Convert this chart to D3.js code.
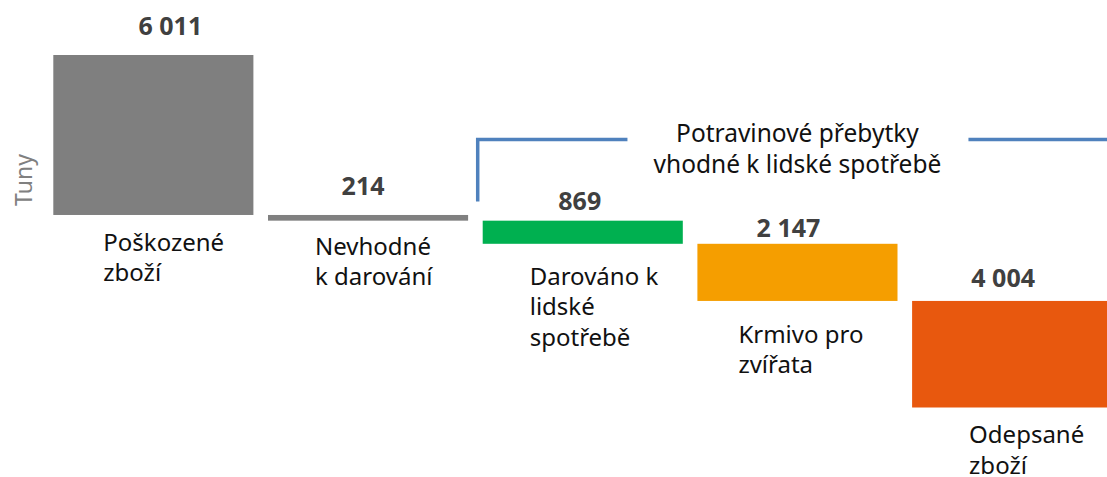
<!DOCTYPE html>
<html>
<head>
<meta charset="utf-8">
<script src="https://cdn.jsdelivr.net/npm/d3@7"></script>
<style>
  html, body { margin: 0; padding: 0; background: #fff; }
  svg { display: block; }
  text { font-family: "Noto Sans", "Open Sans", sans-serif; }
</style>
</head>
<body>
<svg id="chart" width="1107" height="477"></svg>
<script>
// ---- data ----
const categories = ["Poškozené zboží", "Nevhodné k darování", "Darováno k lidské spotřebě", "Krmivo pro zvířata", "Odepsané zboží"];
const categoryLines = [["Poškozené", "zboží"], ["Nevhodné", "k darování"], ["Darováno k", "lidské", "spotřebě"], ["Krmivo pro", "zvířata"], ["Odepsané", "zboží"]];
const values = [6011, 214, 869, 2147, 4004];
const valueLabels = ["6 011", "214", "869", "2 147", "4 004"];
const axisTitle = "Tuny";
const bracketLines = ["Potravinové přebytky", "vhodné k lidské spotřebě"];

// ---- layout / style ----
const W = 1107, H = 477;
const colors = ["#7f7f7f", "#808080", "#00b050", "#f59e00", "#e8580e"];
const labelDx = [17, -5, -3, -9, -9];
const labelDy = [-20, -20, -11, -7, -13.5];
const catDx = [50, 47, 47, 41, 57];
const catDy = [36, 34, 41, 42, 35.5];
const lineH = 30.5;

const svg = d3.select("#chart");

const x = d3.scaleBand()
  .domain(categories)
  .range([46, 1119.5])
  .paddingInner(0.068)
  .paddingOuter(0.034);

// cumulative (cascading downward) positions
const starts = [];
let acc = 0;
values.forEach(v => { starts.push(acc); acc += v; });
const total = acc;

const y = d3.scaleLinear().domain([0, total]).range([55, 407.5]);

const data = categories.map((c, i) => ({ c, i, v: values[i], s: starts[i], lbl: valueLabels[i], lines: categoryLines[i] }));

// bars
svg.append("g").selectAll("rect").data(data).join("rect")
  .attr("x", d => x(d.c))
  .attr("y", d => y(d.s))
  .attr("width", x.bandwidth())
  .attr("height", d => y(d.s + d.v) - y(d.s))
  .attr("fill", d => colors[d.i]);

// value labels
svg.append("g").selectAll("text").data(data).join("text")
  .attr("x", d => x(d.c) + x.bandwidth() / 2 + labelDx[d.i])
  .attr("y", d => y(d.s) + labelDy[d.i])
  .attr("text-anchor", "middle")
  .attr("font-size", 25)
  .attr("font-weight", "bold")
  .attr("fill", "#404040")
  .text(d => d.lbl);

// category labels
const cat = svg.append("g").selectAll("text").data(data).join("text")
  .attr("x", d => x(d.c) + catDx[d.i])
  .attr("y", d => y(d.s + d.v) + catDy[d.i])
  .attr("font-size", 24)
  .attr("fill", "#111");
cat.selectAll("tspan").data(d => d.lines.map((t, k) => ({ t, k, d }))).join("tspan")
  .attr("x", e => x(e.d.c) + catDx[e.d.i])
  .attr("dy", e => e.k === 0 ? 0 : lineH)
  .text(e => e.t);

// axis title
svg.append("text")
  .attr("transform", "translate(32,180) rotate(-90)")
  .attr("text-anchor", "middle")
  .attr("font-size", 23)
  .attr("fill", "#808080")
  .text(axisTitle);

// bracket
const bx = x(categories[2]) - 5;
const by = 139.5;
const textCx = x(categories[3]) + x.bandwidth() / 2;
const bracket = svg.append("g").attr("fill", "none").attr("stroke", "#4f81bd").attr("stroke-width", 3.5);
bracket.append("path").attr("d", `M${bx},${by + 62}V${by}H${textCx - 170}`);
bracket.append("path").attr("d", `M${textCx + 171},${by}H${W}`);

const bt = svg.append("text")
  .attr("x", textCx)
  .attr("y", 142)
  .attr("text-anchor", "middle")
  .attr("font-size", 24.5)
  .attr("fill", "#111");
bt.selectAll("tspan").data(bracketLines).join("tspan")
  .attr("x", textCx)
  .attr("dy", (t, k) => k === 0 ? 0 : 31)
  .text(t => t);
</script>
</body>
</html>
